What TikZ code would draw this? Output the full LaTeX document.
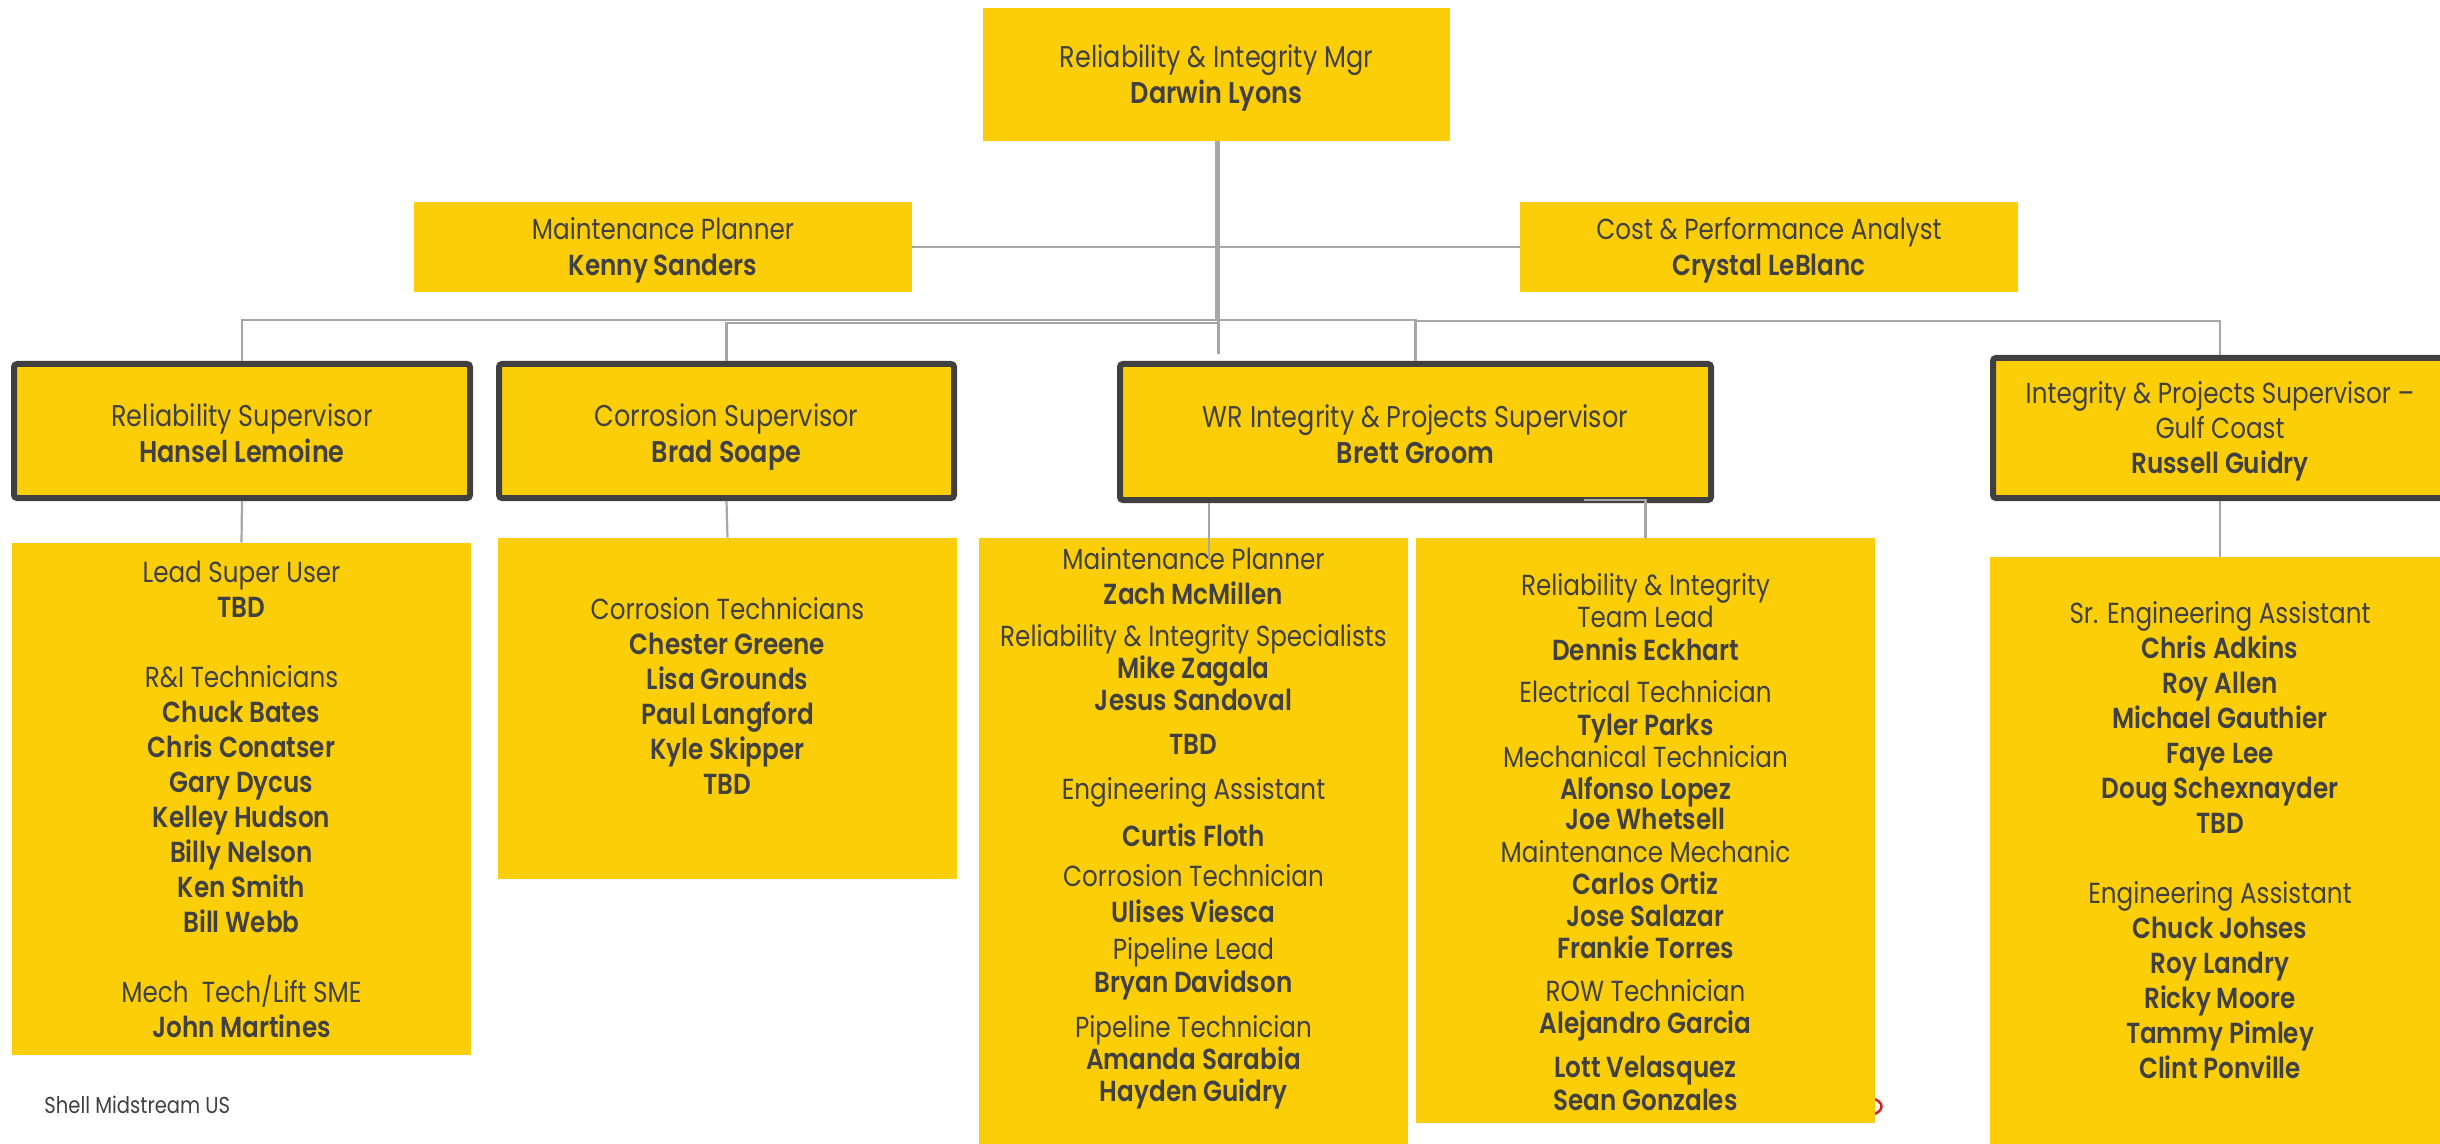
\documentclass[tikz,border=0pt]{standalone}
\usepackage{fontspec}
\setmainfont{Poppins}[FakeStretch=0.85, BoldFont={Poppins SemiBold}]
\usepackage{tikz}
\definecolor{shellyellow}{HTML}{FBCE07}
\definecolor{inkgray}{HTML}{404040}
\definecolor{framegray}{HTML}{404040}
\definecolor{wiregray}{HTML}{A6A6A6}
\definecolor{pagered}{HTML}{DD1D21}
\newcommand\padbelow[1]{\rule[-#1]{0pt}{#1}}
\newcommand\padabove[1]{\rule{0pt}{#1}}
\newcommand\topline{\rule{0pt}{1em}}
\newcommand\tallline{\rule{0pt}{\dimexpr1em+3pt\relax}}
\newcommand\lowline{\rule[-0.27em]{0pt}{0.27em}}

\begin{document}
\begin{tikzpicture}[x=0.5pt,y=-0.5pt,
   boxsize/.style 2 args={minimum width={#1*0.5pt},minimum height={#2*0.5pt}},
   post/.style={fill=shellyellow,text=inkgray,align=center,inner sep=0pt},
   lead/.style={post,draw=framegray,line width=3pt,rounded corners=1.5pt},
   wire/.style={draw=wiregray,line width=1.1pt},
   bigtext/.style={font=\fontsize{15}{18}\selectfont},
   midtext/.style={font=\fontsize{15}{18}\selectfont},
   stafftext/.style={font=\fontsize{14.5}{18}\selectfont},
   listtext/.style={font=\fontsize{14.5}{17.5}\selectfont},
   packtext/.style={font=\fontsize{14.5}{16}\selectfont}]
   \useasboundingbox (0,0) rectangle (2440,1144);
   \clip (0,0) rectangle (2440,1144);
   \fill[white] (0,0) rectangle (2440,1144);
   \draw[pagered,line width=1.2pt] (1871,1098) .. controls (1885,1101) and (1885,1112) .. (1871,1115);

   \node[post,bigtext,boxsize={467}{133}] (mgr) at (1216.5,74.5) {\topline Reliability \& Integrity Mgr\\\textbf{Darwin Lyons}\lowline};
   \node[post,stafftext,boxsize={498}{90}] (planner) at (663,247) {\topline Maintenance Planner\\\textbf{Kenny Sanders}\lowline};
   \node[post,stafftext,boxsize={498}{90}] (analyst) at (1769,247) {\topline Cost \& Performance Analyst\\\textbf{Crystal LeBlanc}\lowline};

   \node[lead,midtext,boxsize={456}{134}] (relsup) at (242,431) {\tallline Reliability Supervisor\\\textbf{Hansel Lemoine}\lowline};
   \node[lead,midtext,boxsize={455}{134}] (corrsup) at (726.5,431) {\tallline Corrosion Supervisor\\\textbf{Brad Soape}\lowline};
   \node[lead,midtext,boxsize={591}{136}] (wrsup) at (1415.5,432) {\tallline WR Integrity \& Projects Supervisor\\\textbf{Brett Groom}\lowline};
   \node[lead,listtext,boxsize={454}{140}] (gulfsup) at (2220,428) {\topline Integrity \& Projects Supervisor –\\Gulf Coast\\\textbf{Russell Guidry}\lowline};

   \node[post,listtext,boxsize={459}{512}] (relteam) at (241.5,799) {Lead Super User\\\textbf{TBD}\\[17.5pt]
      R\&I Technicians\\\textbf{Chuck Bates}\\\textbf{Chris Conatser}\\\textbf{Gary Dycus}\\\textbf{Kelley Hudson}\\
      \textbf{Billy Nelson}\\\textbf{Ken Smith}\\\textbf{Bill Webb}\\[17.5pt]
      Mech\ \ Tech/Lift SME\\\textbf{John Martines}};
   \node[post,listtext,boxsize={459}{341}] (corrteam) at (727.5,708.5) {Corrosion Technicians\\\textbf{Chester Greene}\\
      \textbf{Lisa Grounds}\\\textbf{Paul Langford}\\\textbf{Kyle Skipper}\\\textbf{TBD}\padbelow{12.5pt}};
   \node[post,packtext,boxsize={429}{606}] (wrleft) at (1193.5,841) {Maintenance Planner\\[1.5pt]\textbf{Zach McMillen}\\[5pt]
      Reliability \& Integrity Specialists\\\textbf{Mike Zagala}\\\textbf{Jesus Sandoval}\\[6pt]\textbf{TBD}\\[6.5pt]
      Engineering Assistant\\[7.5pt]\textbf{Curtis Floth}\\[4pt]Corrosion Technician\\[2pt]\textbf{Ulises Viesca}\\[2.5pt]
      Pipeline Lead\\[0.5pt]\textbf{Bryan Davidson}\\[6.5pt]Pipeline Technician\\\textbf{Amanda Sarabia}\\
      \textbf{Hayden Guidry}\padbelow{17pt}};
   \node[post,packtext,boxsize={459}{585}] (wrright) at (1645.5,830.5) {\padabove{22.5pt}Reliability \& Integrity\\Team Lead\\[0.5pt]
      \textbf{Dennis Eckhart}\\[5pt]Electrical Technician\\[0.5pt]\textbf{Tyler Parks}\\Mechanical Technician\\
      \textbf{Alfonso Lopez}\\[-0.75pt]\textbf{Joe Whetsell}\\[0.5pt]Maintenance Mechanic\\\textbf{Carlos Ortiz}\\[-0.25pt]
      \textbf{Jose Salazar}\\\textbf{Frankie Torres}\\[5.5pt]ROW Technician\\\textbf{Alejandro Garcia}\\[6pt]
      \textbf{Lott Velasquez}\\[0.5pt]\textbf{Sean Gonzales}};
   \node[post,listtext,boxsize={460}{587}] (gulfteam) at (2220,850.5) {Sr. Engineering Assistant\\\textbf{Chris Adkins}\\
      \textbf{Roy Allen}\\\textbf{Michael Gauthier}\\\textbf{Faye Lee}\\\textbf{Doug Schexnayder}\\\textbf{TBD}\\[17.5pt]
      Engineering Assistant\\\textbf{Chuck Johses}\\\textbf{Roy Landry}\\\textbf{Ricky Moore}\\\textbf{Tammy Pimley}\\
      \textbf{Clint Ponville}\padbelow{10.5pt}};

   \node[text=inkgray,font=\fontsize{11.5}{13}\selectfont,anchor=west,inner sep=0pt] (footer) at (44,1105) {Shell Midstream US};

   \coordinate (bus) at (1216.5,320);
   \coordinate (corrbus) at (1216.5,323);
   \coordinate (gulfbus) at (1415.5,321);
   \coordinate (wrstub) at (1218.5,354);
   \coordinate (wrleftstub) at (1209,560);
   \coordinate (wrbend) at (1584,500);
   \draw[wire] (mgr.south) |- (planner.east);
   \draw[wire] (mgr.south) |- (analyst.west);
   \draw[wire] (mgr.south) -- (bus) -| (relsup.north);
   \draw[wire] (corrbus) -| (corrsup.north);
   \draw[wire] (bus) -| (wrsup.north);
   \draw[wire] (gulfbus) -| (gulfsup.north);
   \draw[wire] (mgr.south -| wrstub) -- (wrstub);
   \path[wire]
   (relsup.south) edge (relteam.north)
   (corrsup.south) edge (corrteam.north)
   (gulfsup.south) edge (gulfteam.north);
   \draw[wire] (wrsup.south -| wrleftstub) -- (wrleftstub);
   \draw[wire] (wrbend) -| (wrright.north);
\end{tikzpicture}
\end{document}
